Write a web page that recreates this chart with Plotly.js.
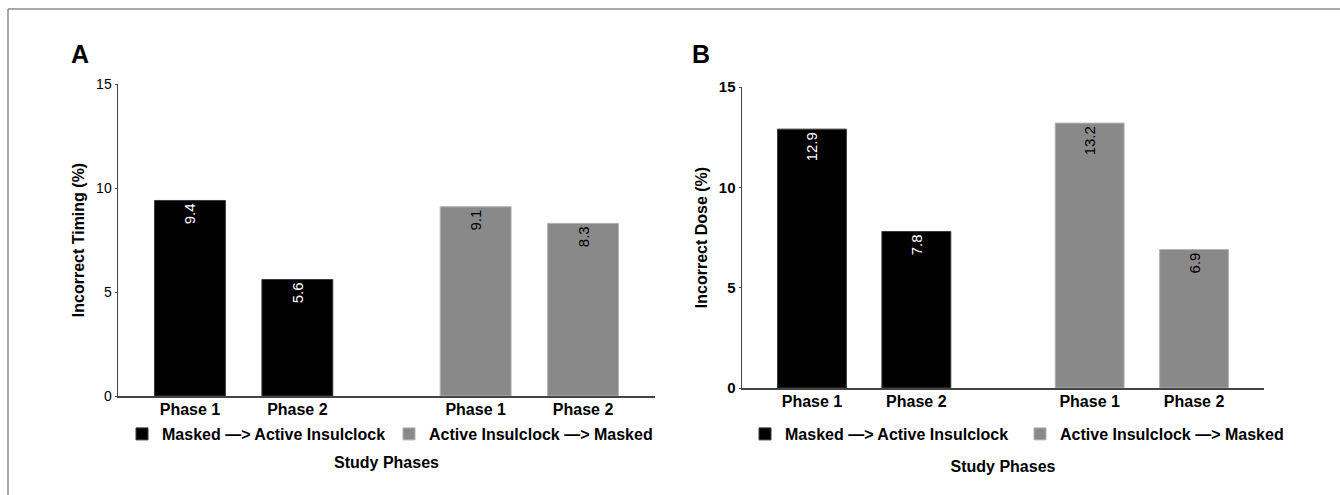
<!DOCTYPE html>
<html>
<head>
<meta charset="utf-8">
<script src="https://cdn.plot.ly/plotly-3.0.1.min.js"></script>
<style>html,body{margin:0;padding:0;background:#fff;}#chart{width:1340px;height:495px;}</style>
</head>
<body>
<div id="chart"></div>
<script>
// ---- data ----
const phases = ["Phase 1", "Phase 2"];
const groupNames = ["Masked \u2014> Active Insulclock", "Active Insulclock \u2014> Masked"];
const timingMaskedFirst = [9.4, 5.6];
const timingActiveFirst = [9.1, 8.3];
const doseMaskedFirst = [12.9, 7.8];
const doseActiveFirst = [13.2, 6.9];
const yTicks = [0, 5, 10, 15];
const panelTitles = ["Incorrect Timing (%)", "Incorrect Dose (%)"];
const xTitle = "Study Phases";
const panelLetters = ["A", "B"];

// ---- layout helpers ----
const W = 1340, H = 495;
const FONT = "Liberation Sans, Arial, Helvetica, sans-serif";
const groupOffset = [0, 2.66];
const colors = ["#000000", "#898989"];
const lineColors = ["#3a3a3a", "#b4b4b4"];
const textColors = ["#ffffff", "#000000"];
const px = v => v / W;
const py = v => (H - v) / H;

function xs(g) { return phases.map((_, i) => groupOffset[g] + i); }
const tickvals = [].concat(xs(0), xs(1));
const ticktext = [].concat(phases, phases);

function barTrace(g, values, xa, ya, legendId) {
  return {
    type: "bar",
    x: xs(g),
    y: values,
    name: groupNames[g],
    xaxis: xa, yaxis: ya,
    legend: legendId,
    width: 0.66,
    marker: {color: colors[g], line: {color: lineColors[g], width: 1}},
    texttemplate: "%{y:.1f}",
    textposition: "inside",
    insidetextanchor: "end",
    textangle: -90,
    constraintext: "none",
    textfont: {family: FONT, size: 15, color: textColors[g]},
    hoverinfo: "x+y"
  };
}

const data = [
  barTrace(0, timingMaskedFirst, "x", "y", "legend"),
  barTrace(1, timingActiveFirst, "x", "y", "legend"),
  barTrace(0, doseMaskedFirst, "x2", "y2", "legend2"),
  barTrace(1, doseActiveFirst, "x2", "y2", "legend2")
];

function xaxis(domain, standoff) {
  return {
    domain: domain,
    range: [-0.67, 4.33],
    tickvals: tickvals, ticktext: ticktext,
    ticks: "", showgrid: false, zeroline: false,
    showline: true, linecolor: "#444", linewidth: 1.5,
    ticklabelstandoff: -2,
    tickfont: {family: FONT, size: 16, color: "#000", weight: "bold"},
    title: {text: xTitle, font: {family: FONT, size: 16, color: "#000", weight: "bold"}, standoff: standoff},
    fixedrange: true
  };
}
function yaxis(domain, title, bold, anchor) {
  return {
    domain: domain,
    anchor: anchor,
    range: [0, 15],
    tickvals: yTicks,
    ticks: "outside", ticklen: 2, tickcolor: "#444",
    showgrid: false, zeroline: false,
    showline: true, linecolor: "#444", linewidth: 1.5,
    tickfont: {family: FONT, size: bold ? 15 : 14, color: "#000", weight: bold ? "bold" : "normal"},
    title: {text: title, font: {family: FONT, size: 16, color: "#000", weight: "bold"}, standoff: 7},
    fixedrange: true
  };
}

const legendCommon = {
  orientation: "h",
  xanchor: "left", yanchor: "middle",
  y: py(434),
  font: {family: FONT, size: 16, color: "#000", weight: "bold"},
  bgcolor: "rgba(0,0,0,0)",
  borderwidth: 0,
  tracegroupgap: 0
};

const layout = {
  width: W, height: H,
  margin: {l: 0, r: 0, t: 0, b: 0},
  paper_bgcolor: "#ffffff",
  plot_bgcolor: "#ffffff",
  showlegend: true,
  bargap: 0,
  xaxis: Object.assign(xaxis([px(118), px(655)], 40), {anchor: "y"}),
  yaxis: yaxis([0.2, py(84)], panelTitles[0], false, "x"),
  xaxis2: Object.assign(xaxis([px(742), px(1264)], 52), {anchor: "y2"}),
  yaxis2: yaxis([py(388), py(87)], panelTitles[1], true, "x2"),
  legend: Object.assign({}, legendCommon, {x: px(122), entrywidth: 222}),
  legend2: Object.assign({}, legendCommon, {x: px(745), entrywidth: 230}),
  annotations: [
    {text: panelLetters[0], xref: "paper", yref: "paper", x: px(80), y: py(54),
     xanchor: "center", yanchor: "middle", showarrow: false,
     font: {family: FONT, size: 25, color: "#000", weight: "bold"}},
    {text: panelLetters[1], xref: "paper", yref: "paper", x: px(701), y: py(54),
     xanchor: "center", yanchor: "middle", showarrow: false,
     font: {family: FONT, size: 25, color: "#000", weight: "bold"}}
  ],
  shapes: [
    {type: "line", xref: "paper", yref: "paper", x0: px(8), x1: 1, y0: py(9), y1: py(9), line: {color: "#555", width: 1}},
    {type: "line", xref: "paper", yref: "paper", x0: px(8), x1: px(8), y0: 0, y1: py(9), line: {color: "#555", width: 1}}
  ]
};

Plotly.newPlot("chart", data, layout, {displayModeBar: false, staticPlot: true});
</script>
</body>
</html>
